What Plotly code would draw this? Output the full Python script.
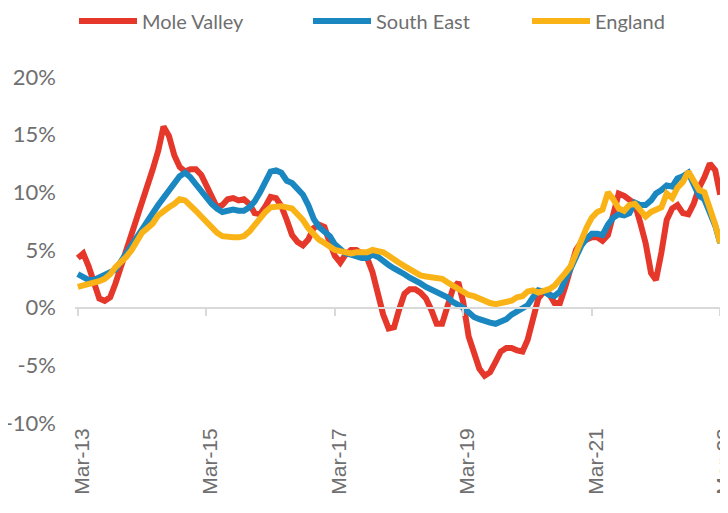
import pandas as pd
import plotly.graph_objects as go

months = pd.date_range("2013-03-01", periods=121, freq="MS")

tick_dates = ["2013-03-01", "2015-03-01", "2017-03-01", "2019-03-01", "2021-03-01", "2023-03-01"]
tick_labels = ["Mar-13", "Mar-15", "Mar-17", "Mar-19", "Mar-21", "Mar-23"]
y_ticks = [-10, -5, 0, 5, 10, 15, 20]
y_tick_labels = ["-10%", "-5%", "0%", "5%", "10%", "15%", "20%"]

mole_valley = [
    4.3, 4.7, 3.6, 2.1, 0.8, 0.6, 0.9, 2.1, 3.5, 4.8,
    6.2, 7.6, 9.2, 10.6, 12.0, 13.6, 15.7, 14.9, 13.2, 12.2,
    11.8, 12.0, 12.0, 11.5, 10.6, 9.4, 8.7, 8.9, 9.4, 9.5,
    9.3, 9.4, 9.0, 8.2, 8.1, 8.8, 9.6, 9.5, 8.8, 7.6,
    6.3, 5.7, 5.4, 5.9, 6.9, 7.2, 7.0, 5.6, 4.5, 3.9,
    4.6, 5.0, 5.0, 4.7, 4.3, 3.1, 1.4, -0.6, -1.8, -1.7,
    -0.2, 1.2, 1.6, 1.6, 1.3, 0.8, -0.2, -1.4, -1.4, 0.2,
    1.6, 2.2, 0.5, -2.5, -4.0, -5.3, -5.9, -5.6, -4.7, -3.8,
    -3.5, -3.5, -3.7, -3.8, -2.8, -1.0, 0.8, 1.4, 1.2, 0.4,
    0.4, 1.8, 3.6, 5.0, 5.7, 5.9, 6.1, 6.1, 5.8, 6.3,
    8.0, 9.9, 9.7, 9.3, 9.0, 7.4, 5.6, 3.0, 2.4, 4.8,
    7.6, 8.6, 8.9, 8.2, 8.1, 9.0, 10.4, 11.3, 12.5, 11.9,
    9.8,
]

south_east = [
    2.9, 2.6, 2.4, 2.4, 2.6, 2.9, 3.0, 3.3, 4.0, 4.7,
    5.4, 6.2, 7.0, 7.6, 8.2, 8.9, 9.5, 10.1, 10.6, 11.4,
    11.7, 11.3, 10.7, 10.1, 9.6, 9.0, 8.6, 8.3, 8.4, 8.5,
    8.4, 8.4, 8.7, 9.2, 10.0, 10.9, 11.8, 11.9, 11.7, 11.0,
    10.8, 10.3, 9.8, 8.9, 7.7, 7.0, 6.6, 6.2, 5.5, 5.0,
    4.7, 4.6, 4.4, 4.3, 4.3, 4.6, 4.4, 4.0, 3.7, 3.4,
    3.2, 2.9, 2.6, 2.4, 2.1, 1.8, 1.6, 1.4, 1.2, 0.9,
    0.5, 0.3, 0.0, -0.4, -0.8, -1.0, -1.2, -1.3, -1.4, -1.2,
    -1.0, -0.6, -0.3, -0.1, 0.2, 0.9, 1.5, 1.4, 1.1, 1.0,
    1.4, 2.4, 3.4, 4.3, 5.4, 6.0, 6.4, 6.4, 6.3, 7.2,
    7.8, 8.1, 8.0, 8.2, 9.1, 8.9, 8.9, 9.3, 9.9, 10.2,
    10.6, 10.5, 11.2, 11.4, 11.7, 10.7, 9.7, 9.4, 8.3, 7.1,
    5.6,
]

england = [
    1.8, 1.9, 2.1, 2.2, 2.3, 2.5, 2.9, 3.5, 3.9, 4.4,
    5.0, 5.8, 6.5, 6.9, 7.3, 8.0, 8.4, 8.7, 9.0, 9.4,
    9.3, 8.9, 8.4, 7.9, 7.4, 7.0, 6.5, 6.2, 6.1, 6.1,
    6.1, 6.2, 6.6, 7.2, 7.8, 8.3, 8.7, 8.8, 8.8, 8.7,
    8.6, 8.1, 7.6, 6.9, 6.4, 5.9, 5.6, 5.3, 5.0, 4.9,
    4.8, 4.7, 4.8, 4.8, 4.8, 5.0, 4.9, 4.8, 4.5, 4.1,
    3.9, 3.6, 3.3, 3.0, 2.8, 2.7, 2.6, 2.6, 2.5, 2.2,
    1.9, 1.6, 1.3, 1.1, 1.0, 0.8, 0.5, 0.4, 0.3, 0.4,
    0.4, 0.6, 0.9, 1.0, 1.4, 1.5, 1.3, 1.4, 1.6, 1.9,
    2.4, 3.0, 3.6, 4.8, 6.0, 7.0, 7.8, 8.3, 8.5, 10.0,
    9.4, 8.6, 8.4, 8.9, 9.0, 8.5, 7.9, 8.3, 8.5, 8.7,
    9.9, 9.5, 10.4, 10.9, 11.8, 10.9, 10.2, 10.0, 8.7, 7.2,
    5.6,
]

series = [
    ("Mole Valley", mole_valley, "#E5382A", 161),
    ("South East", south_east, "#1A87C0", 146),
    ("England", england, "#FAB317", 80),
]

GREY = "#6f6f6f"
AXIS = "#d9d9d9"

fig = go.Figure()
for name, vals, col, lw in series:
    fig.add_trace(go.Scatter(
        x=months, y=vals, name=name, mode="lines",
        line=dict(color=col, width=6), legendwidth=lw,
    ))

# invisible helper trace so the zero-line axis (ticks at y=0) is drawn
fig.add_trace(go.Scatter(x=[months[0], months[-1]], y=[None, None], xaxis="x2",
                         showlegend=False, hoverinfo="skip", mode="lines"))

x_range = ["2013-02-13", "2023-03-17"]

fig.update_layout(
    width=728, height=513,
    margin=dict(l=67, r=13, t=69, b=98, autoexpand=False),
    paper_bgcolor="white", plot_bgcolor="white",
    showlegend=True,
    legend=dict(
        orientation="h", xref="container", yref="container",
        x=66 / 728, y=1 - 13 / 513, xanchor="left", yanchor="middle",
        font=dict(family="Lato", size=20, color=GREY),
        itemwidth=58, tracegroupgap=0,
        bgcolor="rgba(0,0,0,0)",
    ),
    xaxis=dict(
        type="date", range=x_range,
        tickvals=tick_dates, ticktext=tick_labels, tickangle=-90,
        ticklabelshift=4, ticklabeloverflow="allow",
        showgrid=False, zeroline=False, showline=False, ticks="",
        tickfont=dict(family="Liberation Sans", size=21, color=GREY),
    ),
    xaxis2=dict(
        type="date", range=x_range, overlaying="x", anchor="free", position=1/3,
        tickvals=tick_dates, showticklabels=False,
        showline=True, linecolor=AXIS, linewidth=2,
        ticks="outside", ticklen=7, tickwidth=2, tickcolor=AXIS,
        showgrid=False, zeroline=False,
    ),
    yaxis=dict(
        range=[-10, 20], tickvals=y_ticks, ticktext=y_tick_labels,
        showgrid=False, zeroline=False, showline=False,
        tickfont=dict(family="Lato", size=22, color=GREY),
        ticklabelstandoff=18,
    ),
)

fig.write_html("out.html")
